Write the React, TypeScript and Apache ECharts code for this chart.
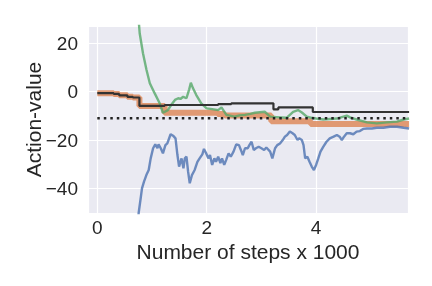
import React, { useEffect, useRef } from "react";
import * as echarts from "echarts";

// x in thousands of steps, y = action-value
const blackSteps = [0, 0.3, 0.4, 0.55, 0.65, 0.77, 1.23, 2.21, 2.45, 3.22, 3.31, 3.94, 5.7];
const blackValues = [-0.6, -0.9, -1.5, -2.1, -2.4, -5.9, -5.5, -5.1, -4.8, -7.3, -6.5, -8.4, -8.4];

const orangeSteps = [0, 0.3, 0.4, 0.55, 0.65, 0.77, 1.23, 2.2, 2.33, 3.18, 3.9, 5.7];
const orangeValues = [-0.6, -0.9, -1.5, -2.1, -2.4, -5.9, -8.7, -9.2, -9.8, -12.2, -13.4, -13.5];

const greenSteps = [
  0.72, 0.775, 0.835, 0.9, 0.96, 1.05, 1.14, 1.2, 1.29, 1.35, 1.42, 1.48, 1.52, 1.57, 1.63,
  1.68, 1.71, 1.75, 1.81, 1.9, 2.0, 2.1, 2.21, 2.27, 2.36, 2.51, 2.6, 2.7, 2.8, 2.88, 3.06,
  3.16, 3.28, 3.46, 3.58, 3.67, 3.74, 3.83, 3.92, 4.0, 4.13, 4.38, 4.56, 4.62, 4.74, 4.93,
  5.11, 5.29, 5.48, 5.6, 5.7,
];
const greenValues = [
  40, 24.2, 15.9, 9.0, 3.5, -0.7, -4.8, -8.7, -7.6, -5.5, -3.4, -2.7, -3.0, -2.1, -2.7,
  1.0, 3.7, 1.4, -1.4, -4.8, -6.9, -7.2, -7.6, -6.5, -9.6, -10.3, -9.8, -9.6, -9.2, -8.7, -8.3,
  -10.3, -10.5, -10.8, -8.3, -7.6, -8.6, -10.3, -10.8, -11.1, -11.5, -11.1, -9.9, -10.6, -11.5, -12.7,
  -13.1, -12.7, -12.4, -11.5, -11.1,
];

const blueSteps = [
  0.73, 0.756, 0.793, 0.817, 0.854, 0.897, 0.94, 0.976, 1.02, 1.06, 1.1, 1.12, 1.16, 1.2, 1.245,
  1.28, 1.34, 1.385, 1.43, 1.465, 1.495, 1.54, 1.575, 1.6, 1.63, 1.66, 1.69, 1.73, 1.78, 1.83,
  1.87, 1.92, 1.95, 1.99, 2.03, 2.06, 2.1, 2.14, 2.17, 2.21, 2.25, 2.28, 2.32, 2.355, 2.4,
  2.44, 2.49, 2.54, 2.59, 2.625, 2.66, 2.7, 2.75, 2.78, 2.82, 2.86, 2.9, 2.95, 3.0, 3.05,
  3.09, 3.16, 3.2, 3.25, 3.29, 3.34, 3.39, 3.43, 3.47, 3.52, 3.57, 3.61, 3.66, 3.69, 3.74,
  3.77, 3.8, 3.84, 3.88, 3.92, 3.96, 4.0, 4.04, 4.08, 4.13, 4.19, 4.25, 4.32, 4.38, 4.43,
  4.47, 4.51, 4.56, 4.62, 4.68, 4.74, 4.8, 4.86, 4.93, 5.02, 5.11, 5.23, 5.35, 5.48, 5.6, 5.7,
];
const blueValues = [
  -60, -50.2, -44.1, -40.0, -37.2, -34.5, -32.4, -27.6, -23.4, -21.8, -23.4, -21.8, -23.4, -25.5, -22.1,
  -21.4, -17.6, -18.2, -19.3, -26.2, -31.0, -27.6, -31.7, -27.6, -26.9, -33.1, -37.9, -34.5, -32.4, -29.0,
  -27.6, -25.9, -23.7, -25.5, -27.6, -26.2, -30.3, -27.6, -29.0, -26.9, -29.6, -27.6, -30.3, -28.3, -25.5,
  -26.9, -24.8, -21.8, -22.1, -24.1, -26.2, -23.4, -23.4, -22.1, -20.7, -24.1, -23.4, -22.8, -23.4, -24.1,
  -23.1, -24.8, -27.6, -23.4, -22.1, -21.4, -20.0, -18.6, -17.9, -16.5, -17.2, -17.9, -20.0, -19.3, -20.0,
  -22.1, -27.6, -26.9, -29.0, -31.0, -32.4, -30.3, -27.6, -24.8, -22.8, -20.7, -19.3, -18.6, -17.9, -18.6,
  -20.0, -18.6, -17.2, -17.2, -17.6, -16.5, -16.3, -15.4, -15.2, -15.2, -14.9, -14.9, -14.5, -14.5, -14.9, -15.2,
];

const referenceSteps = [0, 5.7];
const referenceValues = [-11, -11];

const zip = (xs: number[], ys: number[]) => xs.map((x, i) => [x, ys[i]]);

const FONT = "'Liberation Sans', Arial, sans-serif";
const TEXT = "#262626";

export default function App() {
  const ref = useRef<HTMLDivElement>(null);
  useEffect(() => {
    if (!ref.current) return;
    const chart = echarts.init(ref.current, undefined, { renderer: "svg" });
    chart.setOption({
      animation: false,
      grid: {
        left: 88,
        right: 24,
        top: 26,
        bottom: 73,
        show: true,
        backgroundColor: "#EAEAF2",
        borderWidth: 0,
      },
      xAxis: {
        type: "value",
        min: -0.17,
        max: 5.68,
        splitNumber: 3,
        name: "Number of steps x 1000",
        nameLocation: "middle",
        nameGap: 28,
        nameMoveOverlap: false,
        nameTextStyle: { fontSize: 21, color: TEXT, fontFamily: FONT },
        axisLine: { show: false },
        axisTick: { show: false },
        axisLabel: {
          fontSize: 19,
          color: TEXT,
          fontFamily: FONT,
          margin: 5,
          showMinLabel: false,
          showMaxLabel: false,
          formatter: (v: number) => String(v).replace("-", "\u2212"),
        },
        splitLine: { show: true, lineStyle: { color: "#FFFFFF", width: 1.2 } },
      },
      yAxis: {
        type: "value",
        min: -50.2,
        max: 27.2,
        splitNumber: 4,
        name: "Action-value",
        nameLocation: "middle",
        nameGap: 44,
        nameMoveOverlap: false,
        nameTextStyle: { fontSize: 21, color: TEXT, fontFamily: FONT },
        axisLine: { show: false },
        axisTick: { show: false },
        axisLabel: {
          fontSize: 19,
          color: TEXT,
          fontFamily: FONT,
          margin: 10,
          showMinLabel: false,
          showMaxLabel: false,
          formatter: (v: number) => String(v).replace("-", "\u2212"),
        },
        splitLine: { show: true, lineStyle: { color: "#FFFFFF", width: 1.2 } },
      },
      series: [
        {
          type: "line",
          name: "orange",
          step: "end",
          data: zip(orangeSteps, orangeValues),
          showSymbol: false,
          lineStyle: { color: "#DD8452", width: 6, opacity: 0.8 },
          z: 2,
        },
        {
          type: "line",
          name: "blue",
          data: zip(blueSteps, blueValues),
          showSymbol: false,
          lineStyle: { color: "#4C72B0", width: 2.4, opacity: 0.8 },
          z: 3,
        },
        {
          type: "line",
          name: "green",
          data: zip(greenSteps, greenValues),
          showSymbol: false,
          lineStyle: { color: "#55A868", width: 2.4, opacity: 0.8 },
          z: 4,
        },
        {
          type: "line",
          name: "black",
          step: "end",
          data: zip(blackSteps, blackValues),
          showSymbol: false,
          lineStyle: { color: "#333333", width: 2.2 },
          z: 5,
        },
        {
          type: "line",
          name: "reference",
          data: zip(referenceSteps, referenceValues),
          showSymbol: false,
          lineStyle: { color: "#222222", width: 2.5, type: [2.5, 4], cap: "butt" },
          z: 6,
        },
      ],
    });
    return () => chart.dispose();
  }, []);
  return (
    <div
      ref={ref}
      style={{ position: "fixed", left: 0, top: 0, width: 432, height: 286 }}
    />
  );
}
